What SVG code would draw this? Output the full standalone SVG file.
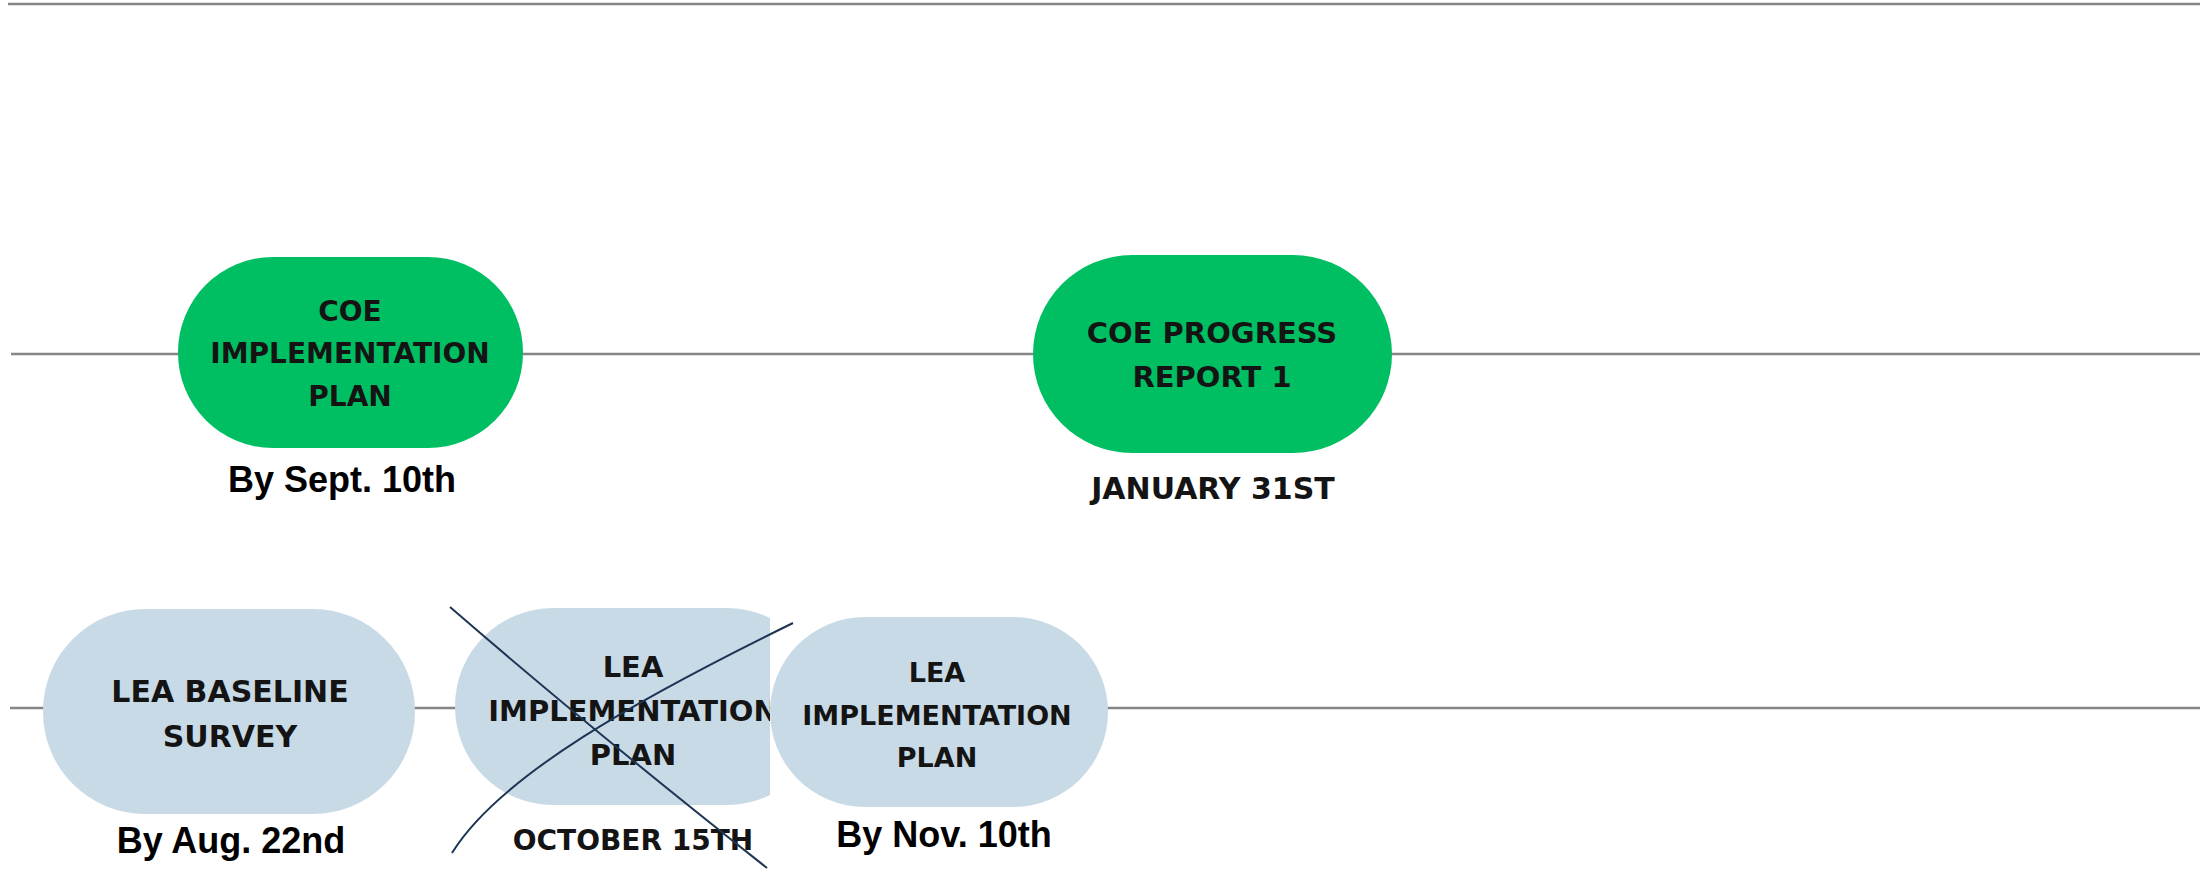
<svg xmlns="http://www.w3.org/2000/svg" width="2200" height="872" viewBox="0 0 2200 872">
<style>
.ln{stroke:#858585;stroke-width:2.5;fill:none}
.g{fill:#00bf63}
.b{fill:#c9dae7}
.nt{font-family:"DejaVu Sans","Open Sans",sans-serif;font-weight:700;fill:#141414;text-anchor:middle}
.dt{font-family:"Liberation Sans",Arial,sans-serif;font-weight:700;font-size:36px;fill:#000;text-anchor:middle}
.x{stroke:#1c3553;stroke-width:2;fill:none}
</style>
<defs>
<clipPath id="cut"><rect x="0" y="560" width="770" height="312"/></clipPath>
</defs>
<rect width="2200" height="872" fill="#fff"/>
<g id="connectors">
<line class="ln" x1="8" y1="4" x2="2200" y2="4"/>
<line class="ln" x1="11" y1="354" x2="2200" y2="354"/>
<line class="ln" x1="10" y1="708" x2="2200" y2="708"/>
</g>
<g id="coe-implementation-plan">
<rect class="g" x="178" y="257" width="345" height="191" rx="95" ry="95"/>
<text class="nt" font-size="28" x="350" y="321">COE</text>
<text class="nt" font-size="28" x="350" y="363">IMPLEMENTATION</text>
<text class="nt" font-size="28" x="350" y="406">PLAN</text>
<text class="dt" x="342" y="492">By Sept. 10th</text>
</g>
<g id="coe-progress-report-1">
<rect class="g" x="1033" y="255" width="359" height="198" rx="99" ry="99"/>
<text class="nt" font-size="29" x="1212" y="343">COE PROGRESS</text>
<text class="nt" font-size="29" x="1212" y="387">REPORT 1</text>
<text class="nt" font-size="30" x="1213" y="499">JANUARY 31ST</text>
</g>
<g id="lea-baseline-survey">
<rect class="b" x="43" y="609" width="372" height="205" rx="102" ry="102"/>
<text class="nt" font-size="30" x="230" y="702">LEA BASELINE</text>
<text class="nt" font-size="30" x="230" y="747">SURVEY</text>
<text class="dt" x="231" y="853">By Aug. 22nd</text>
</g>
<g id="lea-implementation-plan-crossed">
<g clip-path="url(#cut)">
<rect class="b" x="455" y="608" width="370" height="197" rx="98" ry="98"/>
<text class="nt" font-size="29" x="633" y="677">LEA</text>
<text class="nt" font-size="29" x="633" y="721">IMPLEMENTATION</text>
<text class="nt" font-size="29" x="633" y="765">PLAN</text>
<text class="nt" font-size="28" x="633" y="850">OCTOBER 15TH</text>
</g>
</g>
<g id="lea-implementation-plan">
<rect class="b" x="770" y="617" width="338" height="190" rx="95" ry="95"/>
<text class="nt" font-size="27" x="937" y="682">LEA</text>
<text class="nt" font-size="27" x="937" y="725">IMPLEMENTATION</text>
<text class="nt" font-size="27" x="937" y="767">PLAN</text>
<text class="dt" x="944" y="847">By Nov. 10th</text>
</g>
<g id="cross">
<path class="x" d="M450 607 Q592 730 767 868"/>
<path class="x" d="M452 853 C500 775 640 698 793 623"/>
</g>
</svg>
